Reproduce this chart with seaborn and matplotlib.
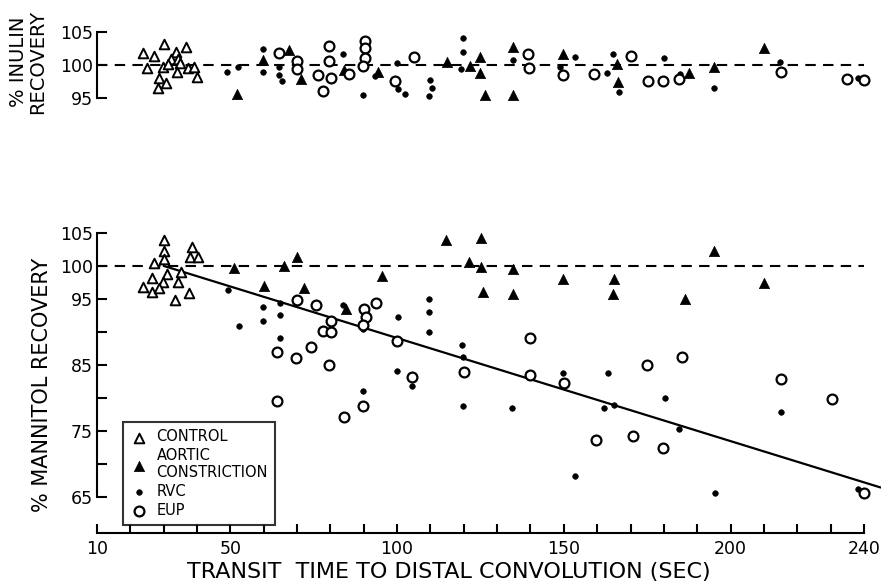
import numpy as np
import pandas as pd
import matplotlib
matplotlib.use("Agg")
import matplotlib.pyplot as plt
import seaborn as sns

# ---------------- data ----------------
# Upper panel: % inulin recovery
inu_control_x = [23.9, 27.1, 30.1, 36.7, 33.7, 32.2, 34.2, 25.1, 29.9, 31.2, 34.9, 33.9, 37.2, 39.2, 39.9, 28.7, 30.7, 28.2]
inu_control_y = [101.8, 101.4, 103.2, 102.7, 102.0, 100.9, 100.9, 99.6, 99.7, 100.1, 100.3, 98.9, 99.5, 99.7, 98.2, 98.1, 97.3, 96.5]
inu_aortic_x = [51.9, 59.9, 67.7, 71.2, 84.2, 94.4, 115.1, 122.0, 125.0, 125.0, 126.4, 134.8, 134.8, 149.8, 165.8, 166.1, 187.6, 195.0, 210.1]
inu_aortic_y = [95.7, 100.8, 102.3, 97.9, 99.2, 98.9, 100.5, 99.9, 101.2, 98.8, 95.5, 102.7, 95.5, 101.6, 100.1, 97.5, 98.8, 99.7, 102.6]
inu_rvc_x = [48.9, 52.2, 59.9, 59.9, 64.6, 64.7, 65.4, 83.7, 89.9, 93.4, 99.9, 100.3, 102.3, 119.8, 119.8, 119.3, 109.9, 110.4, 109.7,
             134.8, 153.5, 149.0, 162.8, 164.8, 166.6, 180.0, 184.8, 195.0, 214.8, 238.3]
inu_rvc_y = [99.0, 99.7, 102.4, 98.9, 99.7, 98.5, 97.6, 101.6, 95.5, 98.3, 100.3, 96.4, 95.6, 104.0, 102.0, 99.4, 97.7, 96.6, 95.3,
             100.8, 101.2, 99.7, 98.8, 101.6, 96.0, 101.0, 98.6, 96.5, 100.5, 98.1]
inu_eup_x = [64.7, 69.9, 69.9, 79.7, 79.7, 76.4, 80.2, 77.9, 85.7, 90.4, 90.4, 90.4, 89.9, 105.1, 99.4, 139.3, 139.6,
             149.8, 159.1, 170.0, 175.3, 179.8, 184.6, 215.0, 235.0, 240.0]
inu_eup_y = [101.8, 100.6, 99.4, 102.9, 100.6, 98.5, 98.1, 96.1, 98.6, 103.6, 102.6, 101.1, 99.9, 101.2, 97.6, 101.6, 99.6,
             98.5, 98.6, 101.4, 97.6, 97.6, 97.9, 98.9, 97.9, 97.7]

# Lower panel: % mannitol recovery
man_control_x = [30.2, 30.2, 30.1, 27.1, 38.4, 37.9, 40.2, 35.2, 34.2, 30.9, 29.9, 26.6, 23.9, 26.4, 28.6, 33.4, 37.6]
man_control_y = [103.9, 102.3, 101.0, 100.4, 102.9, 101.3, 101.3, 99.1, 97.6, 98.7, 97.6, 98.1, 96.8, 96.0, 96.7, 94.9, 95.9]
man_aortic_x = [51.0, 66.0, 70.0, 60.0, 72.0, 95.5, 84.6, 114.8, 121.6, 125.1, 125.1, 125.8, 134.8, 134.8, 149.8, 165.0, 164.8,
                186.3, 195.0, 210.0]
man_aortic_y = [99.7, 100.0, 101.4, 97.0, 96.7, 98.5, 93.5, 104.0, 100.6, 104.3, 99.8, 96.1, 99.5, 95.7, 98.0, 98.0, 95.7,
                95.0, 102.3, 97.4]
man_rvc_x = [49.2, 52.7, 59.9, 59.9, 64.9, 64.9, 64.9, 83.7, 89.9, 89.7, 100.3, 99.9, 104.6, 109.6, 109.6, 109.6, 119.6, 119.8,
             119.8, 134.6, 149.8, 153.3, 163.2, 162.0, 165.1, 180.3, 184.6, 195.4, 215.0, 238.3]
man_rvc_y = [96.4, 90.9, 93.7, 91.7, 94.4, 92.6, 89.0, 94.1, 90.4, 81.1, 92.3, 84.0, 81.8, 95.0, 93.0, 90.0, 88.0, 86.2,
             78.8, 78.5, 83.8, 68.1, 83.8, 78.4, 78.9, 79.9, 75.2, 65.6, 77.8, 66.1]
man_eup_x = [69.9, 75.7, 80.2, 77.7, 80.2, 64.1, 69.7, 74.1, 79.7, 64.1, 84.1, 90.1, 90.7, 89.9, 93.7, 99.9, 104.6, 89.9,
             120.0, 139.8, 140.0, 150.0, 159.6, 170.8, 175.0, 185.4, 215.1, 230.3, 179.8, 240.0]
man_eup_y = [94.8, 94.0, 91.7, 90.2, 90.0, 86.9, 86.0, 87.7, 85.0, 79.5, 77.1, 93.5, 92.3, 91.1, 94.3, 88.6, 83.2, 78.8,
             83.9, 89.0, 83.4, 82.2, 73.6, 74.2, 85.0, 86.2, 82.9, 79.8, 72.4, 65.5]

# regression line and reference line
reg_x = [30, 245]
reg_y = [100.0, 66.4]
ref_x = [10, 240]
ref_y = [100, 100]

group_labels = ["CONTROL", "AORTIC\nCONSTRICTION", "RVC", "EUP"]
x_ticks = list(range(10, 241, 10))
x_ticklabels = ["10", "50", "100", "150", "200", "240"]
inu_yticks = [95, 100, 105]
man_yticks = [65, 70, 75, 80, 85, 90, 95, 100, 105]
man_ylabels = ["65", "", "75", "", "85", "", "95", "100", "105"]

# ---------------- style ----------------
sns.set_style("ticks")
plt.rcParams["font.family"] = ["DejaVu Sans"]
for key in ["text.color", "axes.labelcolor", "xtick.color", "ytick.color", "axes.edgecolor"]:
    plt.rcParams[key] = "black"

W, H = 886, 585
fig = plt.figure(figsize=(W / 100, H / 100), dpi=100)

left = 97 / W
width = (880.6 - 97) / W
ax1 = fig.add_axes([left, 1 - 105 / H, width, 80 / H])
ax2 = fig.add_axes([left, 1 - 533 / H, width, 308 / H])

styles = {
    "CONTROL": dict(marker="^", s=48, color="white", edgecolor="black", linewidth=1.4),
    "AORTIC\nCONSTRICTION": dict(marker="^", s=55, color="black", edgecolor="black", linewidth=0.5),
    "RVC": dict(marker="o", s=16, color="black", edgecolor="black", linewidth=0.5),
    "EUP": dict(marker="o", s=50, color="white", edgecolor="black", linewidth=1.6),
}

def draw_groups(ax, groups, legend):
    for name, (xs, ys) in zip(group_labels, groups):
        df = pd.DataFrame({"x": xs, "y": ys})
        sns.scatterplot(data=df, x="x", y="y", ax=ax, zorder=3,
                        label=name if legend else None, legend=False, **styles[name])

# upper panel
sns.lineplot(x=ref_x, y=ref_y, ax=ax1, color="black", linewidth=1.5,
             linestyle=(0, (5, 3.5)), zorder=2)
draw_groups(ax1, [(inu_control_x, inu_control_y), (inu_aortic_x, inu_aortic_y),
                  (inu_rvc_x, inu_rvc_y), (inu_eup_x, inu_eup_y)], legend=False)
ax1.set_xlim(10, 245)
ax1.set_ylim(94, 106)
ax1.set_yticks(inu_yticks)
ax1.set_yticklabels([str(v) for v in inu_yticks])
ax1.set_xticks([])
for sp in ["top", "right", "bottom"]:
    ax1.spines[sp].set_visible(False)
ax1.spines["left"].set_bounds(95, 105)
ax1.spines["left"].set_linewidth(1.5)
ax1.tick_params(axis="y", direction="in", length=7, width=1.5, labelsize=12.5, pad=3)
ax1.set_xlabel("")
ax1.set_ylabel("")

# lower panel
sns.lineplot(x=ref_x, y=ref_y, ax=ax2, color="black", linewidth=1.5,
             linestyle=(0, (5, 3.5)), zorder=2)
sns.lineplot(x=reg_x, y=reg_y, ax=ax2, color="black", linewidth=1.6, zorder=2)
draw_groups(ax2, [(man_control_x, man_control_y), (man_aortic_x, man_aortic_y),
                  (man_rvc_x, man_rvc_y), (man_eup_x, man_eup_y)], legend=True)
ax2.set_xlim(10, 245)
ax2.set_ylim(59.5, 106.2)
ax2.set_yticks(man_yticks)
ax2.set_yticklabels(man_ylabels)
ax2.set_xticks(x_ticks)
ax2.set_xticklabels([str(t) if str(t) in x_ticklabels else "" for t in x_ticks])
for sp in ["top", "right"]:
    ax2.spines[sp].set_visible(False)
ax2.spines["left"].set_bounds(65, 105)
ax2.spines["bottom"].set_bounds(10, 240)
ax2.spines["left"].set_linewidth(1.5)
ax2.spines["bottom"].set_linewidth(1.5)
ax2.tick_params(axis="y", direction="in", length=7, width=1.5, labelsize=12.5, pad=3)
ax2.tick_params(axis="x", direction="in", length=6.5, width=1.5, labelsize=12.5, pad=5)
ax2.set_xlabel("")
ax2.set_ylabel("")

leg = ax2.legend(loc="upper left", bbox_to_anchor=(0.033, 0.36), borderaxespad=0,
                 frameon=True, fancybox=False, fontsize=10.5, labelspacing=0.25,
                 handletextpad=0.6, handlelength=1.2, borderpad=0.5, scatterpoints=1)
leg.get_frame().set_edgecolor("black")
leg.get_frame().set_linewidth(1.5)

fig.text(449 / W, 1 - 572 / H, "TRANSIT  TIME TO DISTAL CONVOLUTION (SEC)",
         ha="center", va="center", fontsize=16)
fig.text(42 / W, 1 - 385 / H, "% MANNITOL RECOVERY", rotation=90,
         ha="center", va="center", fontsize=15)
fig.text(28 / W, 1 - 62 / H, "% INULIN\nRECOVERY", rotation=90,
         ha="center", va="center", fontsize=14, linespacing=1.0, multialignment="center")

fig.savefig("out.png", dpi=100)
